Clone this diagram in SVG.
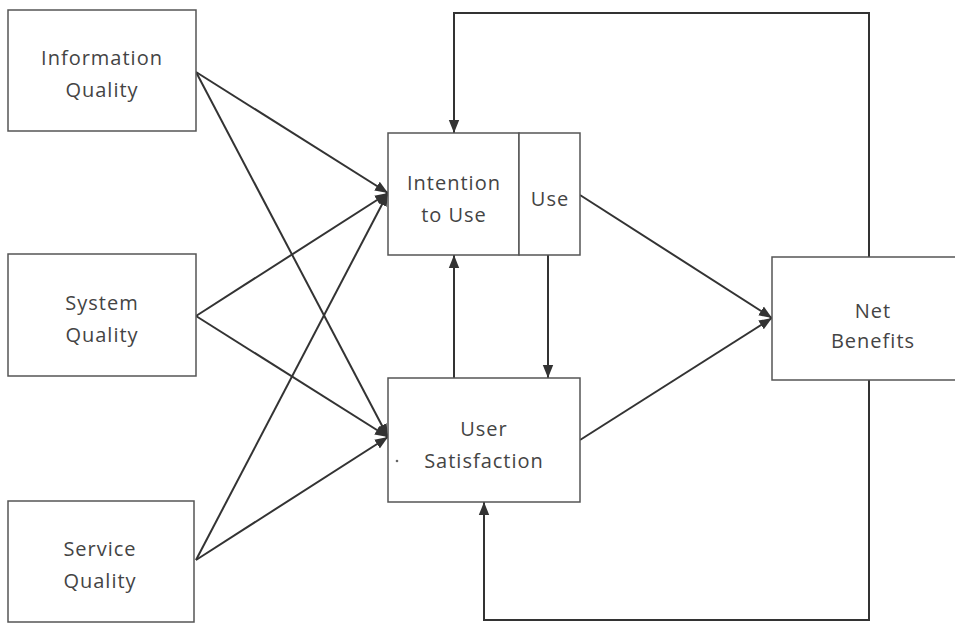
<svg xmlns="http://www.w3.org/2000/svg" width="955" height="625" viewBox="0 0 955 625">
<style>
.box{fill:#fff;stroke:#555;stroke-width:1.5}
.lbl{font-family:"Open Sans","Liberation Sans",sans-serif;font-size:20px;letter-spacing:1px;fill:#444;text-anchor:middle}
.c{fill:none;stroke:#333;stroke-width:2}
</style>
<defs>
<marker id="ab" viewBox="0 0 10 10" refX="10" refY="5" markerWidth="13" markerHeight="13" markerUnits="userSpaceOnUse" orient="auto">
<path d="M0,1 L10,5 L0,9 Z" fill="#333"/>
</marker>
</defs>
<rect width="955" height="625" fill="#fff"/>
<g id="connectors">
<line class="c" x1="196" y1="72" x2="388" y2="193" marker-end="url(#ab)"/>
<line class="c" x1="196" y1="72" x2="388" y2="437" marker-end="url(#ab)"/>
<line class="c" x1="196" y1="316" x2="388" y2="193" marker-end="url(#ab)"/>
<line class="c" x1="196" y1="316" x2="388" y2="437" marker-end="url(#ab)"/>
<line class="c" x1="196" y1="560" x2="388" y2="193" marker-end="url(#ab)"/>
<line class="c" x1="196" y1="560" x2="388" y2="437" marker-end="url(#ab)"/>
<line class="c" x1="454" y1="378" x2="454" y2="255" marker-end="url(#ab)"/>
<line class="c" x1="548" y1="255" x2="548" y2="378" marker-end="url(#ab)"/>
<line class="c" x1="580" y1="195" x2="772" y2="318" marker-end="url(#ab)"/>
<line class="c" x1="580" y1="440" x2="772" y2="318" marker-end="url(#ab)"/>
<polyline class="c" points="869,257 869,13 454,13 454,133" marker-end="url(#ab)"/>
<polyline class="c" points="869,380 869,620 484,620 484,502" marker-end="url(#ab)"/>
</g>
<g id="info-quality">
<rect class="box" x="8" y="10" width="188" height="121"/>
<text class="lbl" x="102" y="65">Information</text>
<text class="lbl" x="102" y="97">Quality</text>
</g>
<g id="system-quality">
<rect class="box" x="8" y="254" width="188" height="122"/>
<text class="lbl" x="102" y="310">System</text>
<text class="lbl" x="102" y="342">Quality</text>
</g>
<g id="service-quality">
<rect class="box" x="8" y="501" width="186" height="121"/>
<text class="lbl" x="100" y="556">Service</text>
<text class="lbl" x="100" y="588">Quality</text>
</g>
<g id="intention-to-use">
<rect class="box" x="388" y="133" width="131" height="122"/>
<text class="lbl" x="454" y="190">Intention</text>
<text class="lbl" x="454" y="222">to Use</text>
</g>
<g id="use">
<rect class="box" x="519" y="133" width="61" height="122"/>
<text class="lbl" x="550" y="206">Use</text>
</g>
<g id="user-satisfaction">
<rect class="box" x="388" y="378" width="192" height="124"/>
<text class="lbl" x="484" y="436">User</text>
<text class="lbl" x="484" y="468">Satisfaction</text>
<circle cx="397" cy="461" r="1.3" fill="#666"/>
</g>
<g id="net-benefits">
<rect class="box" x="772" y="257" width="190" height="123"/>
<text class="lbl" x="873" y="318">Net</text>
<text class="lbl" x="873" y="348">Benefits</text>
</g>
</svg>
